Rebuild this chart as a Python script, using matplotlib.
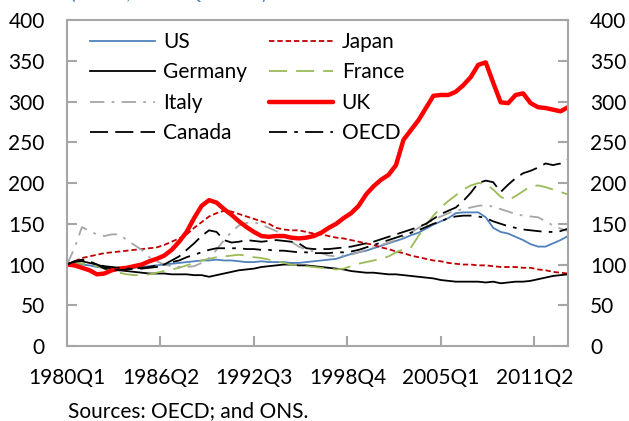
import matplotlib
matplotlib.use("Agg")
import matplotlib.pyplot as plt

plt.rcParams['font.family'] = ['Lato', 'DejaVu Sans']

# half-yearly readings, quarter index from 1980Q1 (0) to 2013Q3 (134)
quarters = list(range(0, 135, 2))
tick_pos = [0, 25, 50, 75, 100, 125]
tick_labels = ['1980Q1', '1986Q2', '1992Q3', '1998Q4', '2005Q1', '2011Q2']

us = [100, 100, 100, 99, 97, 96, 95, 95, 95, 96, 97, 98, 99, 100, 101, 102, 103,
      104, 105, 105, 106, 105, 105, 104, 103, 103, 104, 103, 103, 103, 102, 102,
      103, 104, 105, 106, 107, 110, 113, 115, 117, 120, 123, 126, 129, 132, 136,
      139, 144, 149, 153, 157, 163, 164, 164, 164, 158, 145, 140, 138, 134, 130,
      125, 122, 122, 126, 130, 135]
japan = [100, 104, 108, 110, 112, 114, 115, 116, 117, 118, 119, 120, 121, 124,
         128, 132, 137, 145, 152, 159, 163, 166, 165, 162, 159, 156, 153, 150,
         145, 143, 142, 142, 140, 138, 137, 135, 133, 132, 130, 128, 126, 124,
         121, 119, 116, 114, 111, 109, 107, 105, 104, 102, 101, 100, 100, 99, 99,
         98, 97, 97, 97, 96, 96, 94, 93, 91, 90, 89]
germany = [100, 103, 104, 102, 100, 97, 95, 93, 92, 91, 90, 89, 89, 89, 88, 88,
           88, 87, 87, 85, 87, 89, 91, 93, 94, 95, 97, 98, 99, 100, 100, 99, 99,
           98, 97, 96, 95, 94, 92, 91, 90, 90, 89, 88, 88, 87, 86, 85, 84, 83, 81,
           80, 79, 79, 79, 79, 78, 79, 77, 78, 79, 79, 80, 82, 84, 86, 87, 88]
france = [100, 101, 101, 100, 98, 95, 92, 90, 88, 87, 87, 88, 90, 92, 94, 96, 99,
          102, 105, 107, 109, 110, 111, 112, 111, 109, 108, 106, 104, 102, 100,
          99, 98, 97, 96, 95, 94, 95, 98, 101, 103, 105, 107, 110, 115, 119, 121,
          135, 148, 160, 170, 178, 185, 192, 197, 200, 199, 192, 183, 179, 184,
          190, 196, 197, 195, 192, 189, 186]
italy = [100, 120, 146, 141, 137, 135, 137, 137, 130, 124, 118, 109, 104, 100, 98,
         97, 97, 98, 102, 108, 118, 130, 140, 148, 151, 152, 149, 145, 141, 138,
         128, 122, 118, 116, 114, 111, 110, 111, 112, 115, 118, 121, 124, 127,
         130, 134, 139, 145, 150, 155, 159, 163, 166, 168, 170, 172, 173, 171,
         168, 165, 162, 160, 159, 158, 153, 148, 144, 141]
uk = [100, 99, 96, 93, 88, 89, 93, 95, 96, 98, 100, 104, 107, 111, 118, 128, 140,
      157, 172, 179, 176, 168, 161, 153, 146, 140, 135, 134, 135, 135, 133, 132,
      133, 135, 139, 145, 150, 157, 163, 172, 186, 196, 204, 210, 222, 253, 265,
      277, 292, 307, 308, 308, 312, 320, 330, 345, 348, 323, 299, 298, 308, 310,
      298, 293, 292, 290, 288, 293]
canada = [100, 104, 106, 104, 100, 95, 94, 93, 94, 95, 95, 96, 97, 100, 105, 110,
          118, 126, 135, 142, 140, 130, 127, 128, 130, 129, 128, 129, 130, 129,
          128, 126, 120, 119, 119, 119, 120, 121, 122, 124, 126, 128, 131, 134,
          137, 140, 143, 146, 150, 156, 162, 166, 170, 178, 188, 200, 203, 201,
          189, 198, 206, 212, 215, 219, 224, 222, 224, 229]
oecd = [100, 104, 105, 103, 100, 98, 97, 96, 95, 95, 96, 97, 99, 100, 103, 105,
        109, 112, 115, 118, 120, 120, 120, 120, 119, 119, 118, 118, 117, 117, 116,
        115, 115, 114, 114, 114, 115, 115, 116, 118, 121, 124, 127, 130, 133, 136,
        139, 142, 146, 150, 153, 157, 159, 160, 160, 159, 157, 153, 150, 147, 145,
        143, 142, 141, 140, 140, 141, 144]

fig = plt.figure(figsize=(6.29, 4.21), dpi=100)
ax = fig.add_axes([0.1065, 0.178, 0.7965, 0.7745])

lw = 1.3
l_us, = ax.plot(quarters, us, color='#4F81BD', lw=lw, label='US')
l_jp, = ax.plot(quarters, japan, color='#C00000', lw=lw, dashes=(3, 1.6), label='Japan')
l_de, = ax.plot(quarters, germany, color='black', lw=lw, label='Germany')
l_fr, = ax.plot(quarters, france, color='#9BBB59', lw=lw, dashes=(10, 5), label='France')
l_it, = ax.plot(quarters, italy, color='#A6A6A6', lw=lw, dashes=(8, 4, 1.5, 4), label='Italy')
l_uk, = ax.plot(quarters, uk, color='#FF0000', lw=3.2, label='UK', solid_capstyle='round')
l_ca, = ax.plot(quarters, canada, color='black', lw=lw, dashes=(10, 4), label='Canada')
l_oe, = ax.plot(quarters, oecd, color='black', lw=lw, dashes=(10, 4, 2, 4), label='OECD')

ax.set_xlim(0, 134)
ax.set_ylim(0, 400)
ax.set_yticks(range(0, 401, 50))
ax.set_xticks(tick_pos)
ax.set_xticklabels(tick_labels)

for s in ax.spines.values():
    s.set_color('#A6A6A6')
    s.set_linewidth(1.5)
ax.tick_params(axis='y', direction='in', length=7, width=1.5, color='#A6A6A6',
               right=True, labelright=True, labelsize=15, pad=16)
ax.tick_params(axis='x', direction='in', length=7, width=1.5, color='#A6A6A6',
               labelsize=15, pad=16)

# legend fills column-wise, so order handles to read row-wise
handles = [l_us, l_de, l_it, l_ca, l_jp, l_fr, l_uk, l_oe]
ax.legend(handles=handles, labels=[h.get_label() for h in handles],
          loc='upper left', bbox_to_anchor=(0.143, 0.924), bbox_transform=fig.transFigure,
          ncol=2, frameon=False, fontsize=15, handlelength=3.1, handletextpad=0.4,
          columnspacing=1.05, labelspacing=0.5, borderpad=0, borderaxespad=0)

# subtitle sits mostly above the canvas, as in the source image
fig.text(0.111, 1 + 1 / 421, '(Index, 1980Q1=100)', color='#4F81BD', fontsize=15,
         va='baseline', ha='left')
fig.text(0.108, 0.0095, 'Sources: OECD; and ONS.', fontsize=15, va='baseline', ha='left')

fig.savefig('out.png', dpi=100)
